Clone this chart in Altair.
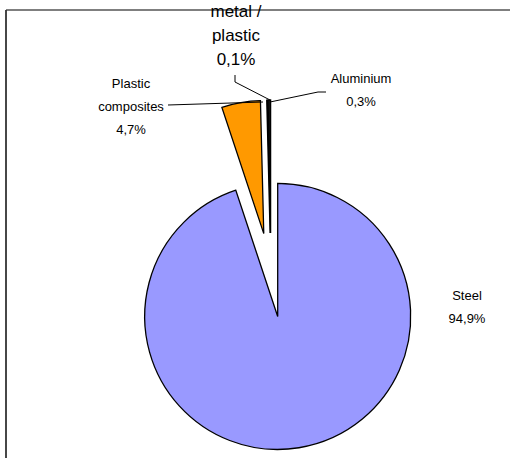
import altair as alt
import pandas as pd

# ---- data ----
categories = ["Steel", "Plastic composites", "metal / plastic", "Aluminium"]
shares = [94.9, 4.7, 0.1, 0.3]
label_lines = [["Steel"], ["Plastic", "composites"], ["metal /", "plastic"], ["Aluminium"]]

# ---- styles / layout ----
colors = ["#9999FF", "#FF9900", "#111111", "#111111"]
CX, CY, EXPLODE, R = 271, 275, 42, 133
label_pos = {  # centre of first line of each label block (px), font size, line height
    "Steel": (467, 296, 13, 23.5),
    "Plastic composites": (131, 84, 13, 22.5),
    "metal / plastic": (236, 12, 17, 24),
    "Aluminium": (361, 79, 13, 24.5),
}
leaders = {
    "Plastic composites": [(168, 105), (263, 102)],
    "metal / plastic": [(235, 75), (235, 82), (270, 100)],
    "Aluminium": [(270, 102), (318, 92), (326, 92)],
}

pie_df = pd.DataFrame({"cat": categories, "share": shares, "idx": range(len(categories))})

pie = (
    alt.Chart(pie_df)
    .transform_joinaggregate(total="sum(share)")
    .transform_window(cum="sum(share)", sort=[alt.SortField("idx")], frame=[None, 0])
    .transform_calculate(
        t0="2*PI*(datum.cum-datum.share)/datum.total",
        t1="2*PI*datum.cum/datum.total",
    )
    .transform_calculate(mid="(datum.t0+datum.t1)/2")
    .transform_calculate(
        px=f"{CX}+{EXPLODE}*sin(datum.mid)",
        py=f"{CY}-{EXPLODE}*cos(datum.mid)",
    )
    .mark_arc(radius=R, stroke="black", strokeWidth=1.3)
    .encode(
        x=alt.X("px:Q", scale=None, axis=None),
        y=alt.Y("py:Q", scale=None, axis=None),
        theta=alt.Theta("t0:Q", scale=None),
        theta2=alt.Theta2("t1:Q"),
        color=alt.Color("cat:N", scale=alt.Scale(domain=categories, range=colors), legend=None),
        order=alt.Order("idx:Q"),
    )
)

lab_rows = []
for c, v, lines in zip(categories, shares, label_lines):
    x, y, fs, lh = label_pos[c]
    pct = f"{v:.1f}".replace(".", ",") + "%"
    lab_rows.append({"cat": c, "text": "\n".join(lines + [pct]), "x": x, "y": y, "fs": fs, "lh": lh})
lab_df = pd.DataFrame(lab_rows)

small = lab_df[lab_df.fs < 15]
big = lab_df[lab_df.fs >= 15]

small_labels = alt.Chart(small).mark_text(
    font="Liberation Sans", fontSize=13, lineHeight=23, lineBreak="\n",
    align="center", baseline="middle", color="black"
).encode(x=alt.X("x:Q", scale=None), y=alt.Y("y:Q", scale=None), text="text:N")

big_labels = alt.Chart(big).mark_text(
    font="Liberation Sans", fontSize=17, lineHeight=24, lineBreak="\n",
    align="center", baseline="middle", color="black"
).encode(x=alt.X("x:Q", scale=None), y=alt.Y("y:Q", scale=None), text="text:N")

lead_rows = []
for c, pts in leaders.items():
    for i, (x, y) in enumerate(pts):
        lead_rows.append({"cat": c, "i": i, "x": x, "y": y})
lead_df = pd.DataFrame(lead_rows)
leader_lines = alt.Chart(lead_df).mark_line(color="black", strokeWidth=1).encode(
    x=alt.X("x:Q", scale=None), y=alt.Y("y:Q", scale=None), detail="cat:N", order="i:Q"
)

one = pd.DataFrame({"a": [0]})
frame_top = alt.Chart(one).mark_rule(color="black", strokeWidth=1.2).encode(
    x=alt.value(6), x2=alt.value(510), y=alt.value(10)
)
frame_left = alt.Chart(one).mark_rule(color="#333333", strokeWidth=1.8).encode(
    x=alt.value(6), y=alt.value(10), y2=alt.value(458)
)

chart = (
    alt.layer(pie, leader_lines, frame_top, frame_left, small_labels, big_labels)
    .properties(width=510, height=458, padding=0, autosize=alt.AutoSizeParams(type="none"),
                background="white")
    .configure_view(stroke=None)
)

chart.save("out.html", embed_options={"renderer": "svg", "actions": False})
